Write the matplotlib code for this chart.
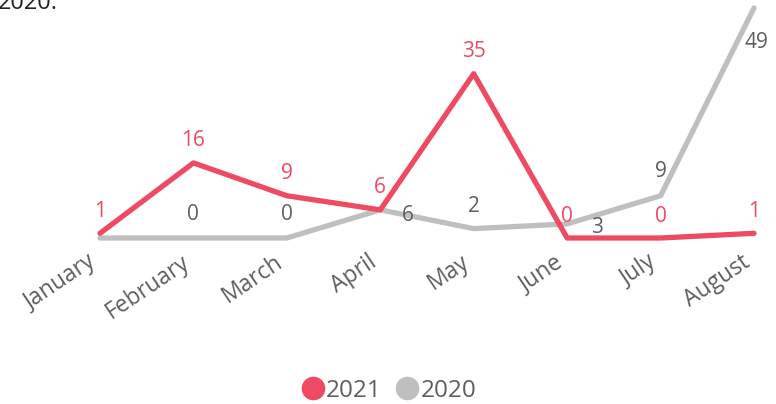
import matplotlib.pyplot as plt
import matplotlib.transforms as mtransforms
from matplotlib.lines import Line2D

months = ['January', 'February', 'March', 'April', 'May', 'June', 'July', 'August']
vals_2021 = [1, 16, 9, 6, 35, 0, 0, 1]
vals_2020 = [0, 0, 0, 6, 2, 3, 9, 49]

# label offsets (px) for the 2020 series, as placed in the original
off_2020 = [None, (0, 23), (0, 23), (28, -6), (0, 22), (30, -4), (0, 24), (2, -34)]

red = '#EE4A62'
grey = '#BFBFBF'
txt = '#605E5C'

plt.rcParams['font.family'] = ['Open Sans', 'DejaVu Sans']

fig = plt.figure(figsize=(7.76, 4.04), dpi=100)
ax = fig.add_axes([100 / 776, 166 / 404, 654 / 776, 230 / 404])
x = list(range(len(months)))

ax.plot(x, vals_2020, color=grey, lw=3.8, solid_capstyle='round', clip_on=False, zorder=2)
ax.plot(x, vals_2021, color=red, lw=3.8, solid_capstyle='round', clip_on=False, zorder=3)

for i, v in enumerate(vals_2021):
    ax.annotate(str(v), (i, v), xytext=(0, 22), textcoords='offset pixels',
                ha='center', va='center', color=red, fontsize=15)
for i, v in enumerate(vals_2020):
    if off_2020[i] is None:
        continue
    ax.annotate(str(v), (i, v), xytext=off_2020[i], textcoords='offset pixels',
                ha='center', va='center', color=txt, fontsize=15)

ax.set_xlim(0, 7)
ax.set_ylim(0, 49)
ax.set_xticks(x)
ax.set_xticklabels(months, rotation=34, ha='right', rotation_mode='anchor',
                   color=txt, fontsize=16.5)
ax.tick_params(axis='x', length=0, pad=9)
shift = mtransforms.ScaledTranslation(-13 / 100, 0, fig.dpi_scale_trans)
for lab in ax.get_xticklabels():
    lab.set_transform(lab.get_transform() + shift)
ax.set_yticks([])
for s in ax.spines.values():
    s.set_visible(False)

handles = [Line2D([], [], marker='o', ls='', color=red, markersize=16),
           Line2D([], [], marker='o', ls='', color=grey, markersize=16)]
leg = fig.legend(handles, ['2021', '2020'], loc='center', bbox_to_anchor=(0.5, 13 / 404),
                 ncol=2, frameon=False, handletextpad=0.0, columnspacing=0.5,
                 fontsize=17.5, handlelength=1.1)
for t in leg.get_texts():
    t.set_color(txt)

fig.text(-0.003, 1.022, '2020.', fontsize=17, color='#222222', va='top', ha='left')

fig.savefig('out.png', dpi=100)
